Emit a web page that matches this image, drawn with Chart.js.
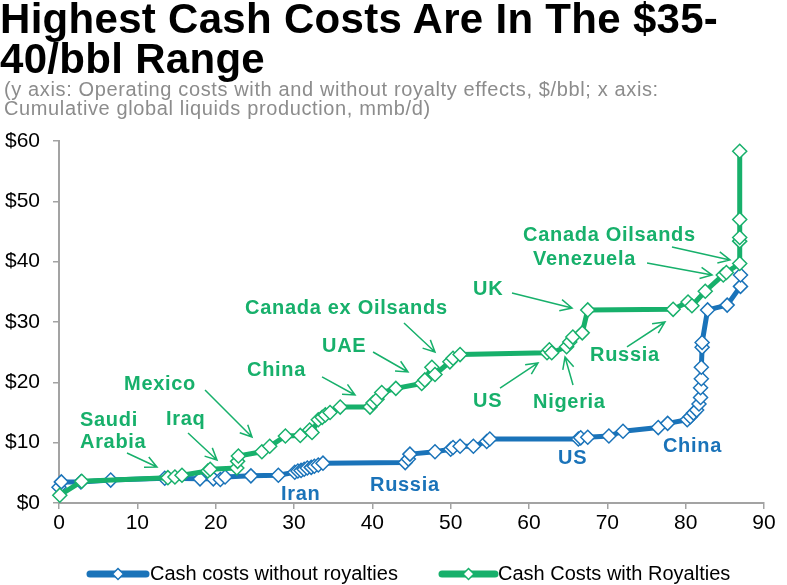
<!DOCTYPE html>
<html><head><meta charset="utf-8">
<script src="https://cdn.jsdelivr.net/npm/chart.js@4.4.0/dist/chart.umd.min.js"></script>
<style>
html,body{margin:0;padding:0;background:#fff;width:787px;height:585px;overflow:hidden;}
#wrap{position:relative;width:787px;height:585px;}
#title{position:absolute;left:0;top:-1px;font:bold 42px "Liberation Sans",Arial,sans-serif;line-height:40px;color:#000;letter-spacing:0.3px;white-space:nowrap;z-index:2}
#sub{position:absolute;left:4px;top:80px;font:20px "Liberation Sans",Arial,sans-serif;line-height:19px;color:#8c8c8c;letter-spacing:0.63px;white-space:nowrap;z-index:2}
canvas{position:absolute;left:0;top:0}
</style></head><body>
<div id="wrap">
<canvas id="c" width="787" height="585"></canvas>
<div id="title">Highest Cash Costs Are In The $35-<br>40/bbl Range</div>
<div id="sub">(y axis: Operating costs with and without royalty effects, $/bbl; x axis:<br>Cumulative global liquids production, mmb/d)</div>
</div>
<script>
// ---- data ----
const seriesNames = ['Cash costs without royalties', 'Cash Costs with Royalties'];
const xTicks = [0, 10, 20, 30, 40, 50, 60, 70, 80, 90];
const yTicks = [0, 10, 20, 30, 40, 50, 60];

const blueX = [0.0, 0.3, 2.8, 6.6, 13.5, 18.0, 19.7, 20.6, 21.2, 24.5, 28.0, 30.1, 30.5, 30.9, 31.3, 31.7, 32.2, 32.6, 33.1, 33.7,
  44.2, 44.6, 44.8, 48.0, 50.0, 50.3, 51.2, 52.9, 54.6, 55.0, 66.3, 66.6, 67.5, 70.2, 72.0, 76.5, 77.7, 80.2, 80.6, 81.0,
  81.4, 81.7, 81.9, 81.9, 82.0, 82.0, 82.1, 82.1, 82.8, 85.3, 87.0, 87.0];
const blueY = [2.6, 3.5, 3.5, 3.8, 4.1, 4.0, 4.0, 3.9, 4.3, 4.5, 4.6, 5.1, 5.3, 5.4, 5.6, 5.8, 5.9, 6.1, 6.3, 6.6,
  6.7, 7.3, 8.1, 8.5, 8.9, 9.2, 9.4, 9.4, 10.2, 10.6, 10.6, 10.8, 10.9, 11.1, 11.9, 12.5, 13.2, 13.8, 14.3, 14.9,
  15.4, 16.4, 17.5, 19.1, 20.6, 22.5, 25.8, 26.6, 32.0, 32.8, 35.9, 37.8];

const greenX = [0.1, 2.9, 13.9, 14.8, 15.7, 19.0, 19.3, 22.7, 22.8, 22.9, 25.9, 26.9, 28.9, 30.8, 32.0, 32.3, 33.1, 33.6, 34.0, 34.6,
  35.9, 39.7, 40.1, 40.6, 41.2, 43.0, 46.3, 46.7, 47.6, 48.0, 49.9, 50.3, 51.2, 62.3, 62.6, 62.9, 64.8, 65.2, 65.6, 66.8,
  67.5, 78.4, 80.3, 80.8, 82.5, 84.8, 85.2, 86.9, 86.9, 86.9, 86.9, 86.9];
const greenY = [1.3, 3.6, 4.2, 4.3, 4.6, 5.3, 5.6, 5.8, 6.9, 7.8, 8.5, 9.4, 11.1, 11.2, 12.1, 11.7, 13.8, 14.2, 14.6, 15.0,
  15.9, 15.9, 16.6, 17.2, 18.3, 19.0, 19.8, 20.4, 22.5, 21.3, 23.4, 24.0, 24.6, 24.9, 25.4, 24.9, 25.9, 26.7, 27.5, 28.2,
  32.0, 32.1, 33.3, 32.7, 35.1, 37.8, 38.2, 39.7, 43.4, 44.0, 47.0, 58.3];

// annotation labels (anchored in data units: left edge, vertical middle), series index for colour
const labelTexts = ['Saudi', 'Arabia', 'Iraq', 'Mexico', 'China', 'UAE', 'Canada ex Oilsands', 'UK', 'US', 'Nigeria', 'Russia',
  'Canada Oilsands', 'Venezuela', 'Iran', 'Russia', 'US', 'China'];
const labelX = [2.68, 2.68, 13.66, 8.30, 24.0, 33.58, 23.75, 52.85, 52.85, 60.51, 67.79, 59.24, 60.51, 28.34, 39.7, 63.7, 77.1];
const labelY = [13.6, 10.1, 13.9, 19.7, 21.9, 25.86, 32.16, 35.47, 16.9, 16.74, 24.37, 44.26, 40.44, 1.49, 2.98, 7.46, 9.45];
const labelSeries = [1, 1, 1, 1, 1, 1, 1, 1, 1, 1, 1, 1, 1, 0, 0, 0, 0];

// annotation arrows (data units)
const arrowFromX = [8.68, 16.47, 18.64, 33.58, 40.09, 44.04, 57.83, 56.30, 65.62, 72.51, 78.25, 75.07];
const arrowFromY = [8.29, 11.60, 18.73, 20.89, 25.03, 29.84, 34.81, 19.06, 19.56, 25.86, 42.43, 39.78];
const arrowToX = [12.51, 20.17, 24.64, 37.79, 44.55, 48.0, 65.49, 61.15, 64.60, 77.36, 85.66, 83.37];
const arrowToY = [5.97, 7.13, 10.94, 17.90, 21.71, 25.03, 32.32, 23.21, 24.20, 30.0, 40.28, 37.79];

// ---- styles ----
const COLORS = ['#1a73b9', '#17b06b'];
const FONT = '"Liberation Sans", Arial, sans-serif';
const AXIS = '#a3a3a3';

const annotationPlugin = {
  id: 'annotations',
  afterDatasetsDraw(chart) {
    const ctx = chart.ctx, xs = chart.scales.x, ys = chart.scales.y;
    ctx.save();
    ctx.strokeStyle = COLORS[1];
    ctx.lineWidth = 1.5;
    for (let i = 0; i < arrowFromX.length; i++) {
      const x1 = xs.getPixelForValue(arrowFromX[i]), y1 = ys.getPixelForValue(arrowFromY[i]);
      const x2 = xs.getPixelForValue(arrowToX[i]), y2 = ys.getPixelForValue(arrowToY[i]);
      const a = Math.atan2(y2 - y1, x2 - x1), L = 13, s = 0.45;
      ctx.beginPath();
      ctx.moveTo(x1, y1); ctx.lineTo(x2, y2);
      ctx.moveTo(x2 - L * Math.cos(a - s), y2 - L * Math.sin(a - s));
      ctx.lineTo(x2, y2);
      ctx.lineTo(x2 - L * Math.cos(a + s), y2 - L * Math.sin(a + s));
      ctx.stroke();
    }
    ctx.font = 'bold 20px ' + FONT;
    ctx.letterSpacing = '0.7px';
    ctx.textAlign = 'left';
    ctx.textBaseline = 'middle';
    for (let i = 0; i < labelTexts.length; i++) {
      ctx.fillStyle = COLORS[labelSeries[i]];
      ctx.fillText(labelTexts[i], xs.getPixelForValue(labelX[i]), ys.getPixelForValue(labelY[i]));
    }
    ctx.restore();
  }
};

const legendPlugin = {
  id: 'customLegend',
  afterDraw(chart) {
    const ctx = chart.ctx;
    const items = [
      { x1: 90, x2: 146, tx: 150 },
      { x1: 442, x2: 495, tx: 498 }
    ];
    const y = 574;
    ctx.save();
    items.forEach((it, i) => {
      ctx.strokeStyle = COLORS[i];
      ctx.lineWidth = 7;
      ctx.lineCap = 'round';
      ctx.beginPath(); ctx.moveTo(it.x1, y); ctx.lineTo(it.x2, y); ctx.stroke();
      const cx = (it.x1 + it.x2) / 2, r = 5.5;
      ctx.lineWidth = 1.5;
      ctx.fillStyle = '#fff';
      ctx.beginPath();
      ctx.moveTo(cx, y - r); ctx.lineTo(cx + r, y); ctx.lineTo(cx, y + r); ctx.lineTo(cx - r, y); ctx.closePath();
      ctx.fill(); ctx.stroke();
      ctx.fillStyle = '#000';
      ctx.font = '20px ' + FONT;
      ctx.textAlign = 'left';
      ctx.textBaseline = 'middle';
      ctx.fillText(seriesNames[i], it.tx, y);
    });
    ctx.restore();
  }
};

function mkDataset(i, xs, ys, order) {
  return {
    label: seriesNames[i],
    data: xs.map((x, k) => ({ x: x, y: ys[k] })),
    borderColor: COLORS[i],
    borderWidth: 5,
    borderJoinStyle: 'round',
    pointStyle: 'rectRot',
    pointRadius: 7,
    pointHoverRadius: 7,
    pointBorderWidth: 1.5,
    pointBackgroundColor: '#fff',
    pointBorderColor: COLORS[i],
    tension: 0,
    clip: false,
    order: order
  };
}

new Chart(document.getElementById('c'), {
  type: 'line',
  data: {
    datasets: [mkDataset(0, blueX, blueY, 2), mkDataset(1, greenX, greenY, 1)]
  },
  options: {
    responsive: false,
    animation: false,
    devicePixelRatio: 1,
    layout: { padding: { top: 141, right: 23, bottom: 42, left: 0 } },
    plugins: { legend: { display: false }, tooltip: { enabled: false }, title: { display: false } },
    scales: {
      x: {
        type: 'linear', min: xTicks[0], max: xTicks[xTicks.length - 1],
        afterFit(s) { s.height = 40; },
        afterBuildTicks(s) { s.ticks = xTicks.map(v => ({ value: v })); },
        grid: { drawOnChartArea: false, drawTicks: true, tickLength: 6, color: AXIS, lineWidth: 1.5 },
        border: { display: true, color: AXIS, width: 2 },
        ticks: { color: '#000', font: { family: FONT, size: 21 }, padding: 2, maxRotation: 0 }
      },
      y: {
        type: 'linear', min: yTicks[0], max: yTicks[yTicks.length - 1],
        afterFit(s) { s.width = 59; },
        afterBuildTicks(s) { s.ticks = yTicks.map(v => ({ value: v })); },
        grid: { drawOnChartArea: false, drawTicks: true, tickLength: 6, color: AXIS, lineWidth: 1.5 },
        border: { display: true, color: AXIS, width: 2 },
        ticks: { color: '#000', font: { family: FONT, size: 21 }, padding: 13, callback: v => '$' + v }
      }
    }
  },
  plugins: [annotationPlugin, legendPlugin]
});
</script>
</body></html>
